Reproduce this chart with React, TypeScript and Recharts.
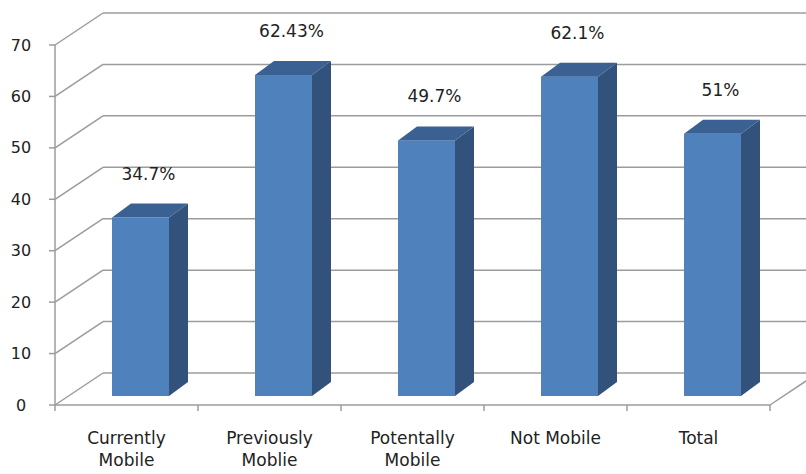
import React from 'react';
import { BarChart, Bar, XAxis, YAxis, CartesianGrid, LabelList } from 'recharts';

const categories = ['Currently\nMobile', 'Previously\nMoblie', 'Potentally\nMobile', 'Not Mobile', 'Total'];
const shares = [34.7, 62.43, 49.7, 62.1, 51];
const yTicks = [0, 10, 20, 30, 40, 50, 60, 70];

const data = categories.map((name, i) => ({ name, share: shares[i] }));

// chart box
const W = 806;
const H = 474;
const PLOT_LEFT = 55;
const PLOT_TOP = 45;
const PLOT_RIGHT = 770;
const PLOT_BOTTOM = 405;
const BAND = (PLOT_RIGHT - PLOT_LEFT) / categories.length;

// fake perspective: back wall offset, bar placement and bar depth
const WALL_DX = 48;
const WALL_DY = 32;
const BAR_DX = 14;
const BAR_DY = 9;
const DEPTH_X = 19;
const DEPTH_Y = 14;

const FONT = '"DejaVu Sans", sans-serif';
const GRID = '#9c9c9c';
const TEXT = '#222';

function WallLine(props: any) {
  const { x1, y1, x2 } = props;
  const isFloor = Math.abs(y1 - PLOT_BOTTOM) < 0.5;
  return (
    <g>
      <line x1={x1} y1={y1} x2={x1 + WALL_DX} y2={y1 - WALL_DY} stroke={GRID} strokeWidth={1.5} />
      <line x1={x1 + WALL_DX} y1={y1 - WALL_DY} x2={x2 + WALL_DX} y2={y1 - WALL_DY} stroke={GRID} strokeWidth={1.5} />
      {isFloor && (
        <line x1={x2} y1={y1} x2={x2 + WALL_DX} y2={y1 - WALL_DY} stroke={GRID} strokeWidth={1.5} />
      )}
    </g>
  );
}

function Box3D(props: any) {
  const { x, y, width, height } = props;
  if (height == null || height <= 0) return null;
  const fx = x + BAR_DX;
  const fy = y - BAR_DY;
  const top = `${fx},${fy} ${fx + width},${fy} ${fx + width + DEPTH_X},${fy - DEPTH_Y} ${fx + DEPTH_X},${fy - DEPTH_Y}`;
  const side = `${fx + width},${fy} ${fx + width + DEPTH_X},${fy - DEPTH_Y} ${fx + width + DEPTH_X},${fy + height - DEPTH_Y} ${fx + width},${fy + height}`;
  return (
    <g>
      <rect x={fx} y={fy} width={width} height={height} fill="#4f81bd" />
      <polygon points={side} fill="#32527c" />
      <polygon points={top} fill="#3b6193" />
    </g>
  );
}

function ShareLabel(props: any) {
  const { x, y, width, value } = props;
  return (
    <text
      x={x + width / 2 + BAR_DX + 8}
      y={y - BAR_DY - 44}
      textAnchor="middle"
      dominantBaseline="central"
      fontFamily={FONT}
      fontSize={17}
      fill={TEXT}
    >
      {`${value}%`}
    </text>
  );
}

function CategoryTick(props: any) {
  const { x, payload, index } = props;
  const lines = String(payload.value).split('\n');
  const isLast = index === categories.length - 1;
  return (
    <g>
      <line x1={x - BAND / 2} y1={PLOT_BOTTOM} x2={x - BAND / 2} y2={PLOT_BOTTOM + 6} stroke={GRID} strokeWidth={1.5} />
      {isLast && (
        <line x1={x + BAND / 2} y1={PLOT_BOTTOM} x2={x + BAND / 2} y2={PLOT_BOTTOM + 6} stroke={GRID} strokeWidth={1.5} />
      )}
      {lines.map((t, i) => (
        <text
          key={i}
          x={x}
          y={PLOT_BOTTOM + 33 + i * 22}
          textAnchor="middle"
          dominantBaseline="central"
          fontFamily={FONT}
          fontSize={17}
          fill={TEXT}
        >
          {t}
        </text>
      ))}
    </g>
  );
}

function ValueTick(props: any) {
  const { y, payload } = props;
  return (
    <text x={21} y={y} textAnchor="middle" dominantBaseline="central" fontFamily={FONT} fontSize={16} fill={TEXT}>
      {payload.value}
    </text>
  );
}

export default function App() {
  return (
    <div style={{ width: W, height: H, background: '#fff' }}>
      <style>{'body{margin:0}'}</style>
      <BarChart
        width={W}
        height={H}
        data={data}
        margin={{ top: PLOT_TOP, right: W - PLOT_RIGHT, bottom: 0, left: 0 }}
        barCategoryGap={0}
      >
        <CartesianGrid vertical={false} horizontal={(p: any) => <WallLine key={p.key} {...p} />} />
        <XAxis
          dataKey="name"
          height={H - PLOT_BOTTOM}
          interval={0}
          tickLine={false}
          axisLine={{ stroke: GRID, strokeWidth: 1.5 }}
          tick={(p: any) => <CategoryTick {...p} />}
        />
        <YAxis
          width={PLOT_LEFT}
          domain={[0, 70]}
          ticks={yTicks}
          interval={0}
          axisLine={{ stroke: GRID, strokeWidth: 1.5 }}
          tickLine={{ stroke: GRID, strokeWidth: 1.5 }}
          tickSize={6}
          tick={(p: any) => <ValueTick {...p} />}
        />
        <Bar dataKey="share" barSize={57} shape={(p: any) => <Box3D {...p} />} isAnimationActive={false}>
          <LabelList dataKey="share" content={(p: any) => <ShareLabel {...p} />} />
        </Bar>
      </BarChart>
    </div>
  );
}
